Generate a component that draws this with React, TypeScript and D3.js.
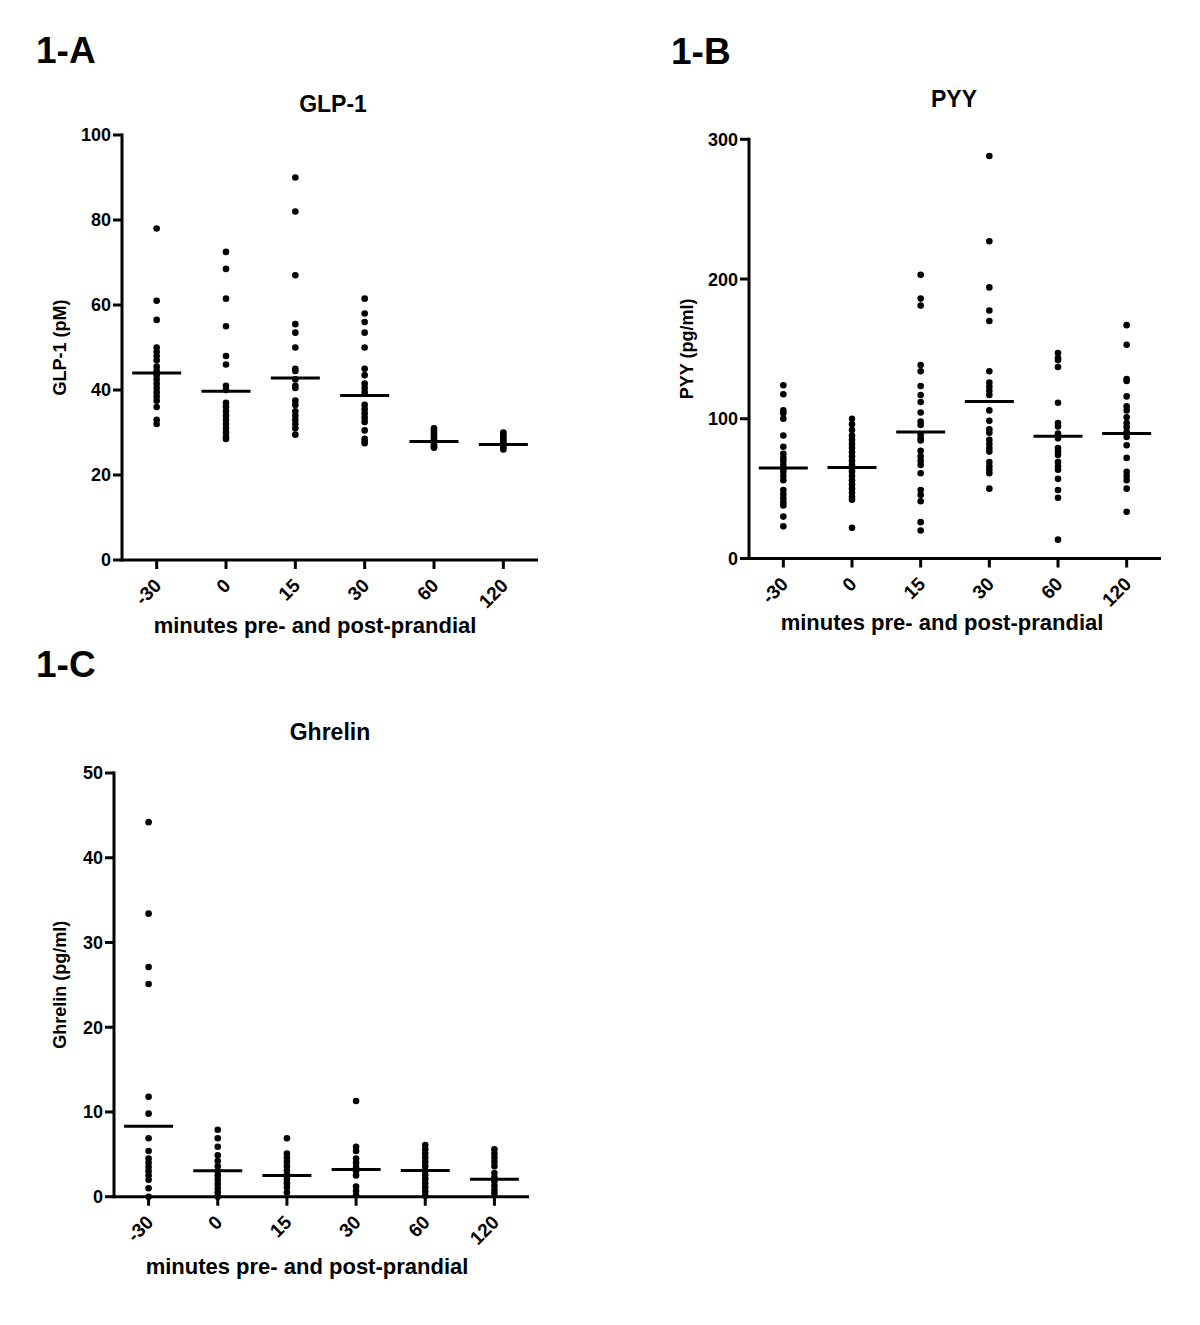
import React from "react";
import * as d3 from "d3";

const categories = ["-30", "0", "15", "30", "60", "120"];

// GLP-1 (pM)
const glpM30 = [78, 61, 56.5, 50, 49, 48, 47, 45.5, 44.5, 43.5, 42.5, 41.5, 40.5, 39.5, 38.5, 37.5, 36, 33, 32];
const glp0 = [72.5, 68.5, 61.5, 55, 48, 46, 41, 40, 37, 36, 35, 34, 33, 32, 31, 30, 29, 28.5];
const glp15 = [90, 82, 67, 55.5, 53.5, 50, 45, 44.5, 42.5, 41, 40.5, 37.5, 36.5, 35, 34, 33, 32, 31, 29.5];
const glp30 = [61.5, 58, 56, 53.5, 50, 45, 43.5, 41.5, 40.5, 39.5, 36.5, 35.5, 34.5, 33.5, 32.5, 30.5, 28.5, 28, 27.5];
const glp60 = [31, 30.5, 30, 29.5, 29, 28.5, 28, 27.5, 27, 26.5, 26.5];
const glp120 = [30, 29.5, 29, 28.5, 28, 27.5, 27, 26.5, 26];
const glpMeans = [44, 39.7, 42.8, 38.7, 27.9, 27.2];
const glpTicks = [0, 20, 40, 60, 80, 100];

// PYY (pg/ml)
const pyyM30 = [124, 117.5, 106, 104, 100, 88, 80, 75, 72, 70, 67, 64, 62, 59, 56, 49, 46, 43, 40, 38, 30, 23];
const pyy0 = [100, 96, 92, 88, 85, 82, 79, 76, 73, 70, 67, 64, 62, 59, 56, 53, 50, 47, 44, 42, 22];
const pyy15 = [203, 186, 181, 138.5, 134, 123.5, 117, 112, 104.5, 98, 95.5, 88.5, 86, 84.5, 77, 73, 70, 67, 61, 49, 45.5, 41, 26, 20];
const pyy30 = [288, 227, 194, 177.5, 170, 134, 126, 123, 120, 117, 106, 98.5, 92.5, 90, 85, 82, 79, 76.5, 69, 66, 63.5, 61, 50];
const pyy60 = [147, 143.5, 142, 137, 111.5, 97, 94.5, 89.5, 86, 79, 76.5, 74, 69, 66, 63.5, 57, 49, 43.5, 13.5];
const pyy120 = [167, 153, 128.5, 127, 116, 109, 106, 101, 97, 94, 90.5, 87, 81, 72, 62, 59, 56, 50, 33.5];
const pyyMeans = [64.8, 65.2, 90.5, 112.3, 87.5, 89.5];
const pyyTicks = [0, 100, 200, 300];

// Ghrelin (pg/ml)
const ghrM30 = [44.2, 33.4, 27.1, 25.1, 11.8, 9.8, 6.9, 5.4, 4.5, 4, 3.5, 3, 2.5, 2, 1, 0];
const ghr0 = [7.9, 6.9, 5.9, 4.9, 4.2, 3.6, 3, 2.5, 2, 1.5, 1, 0.5, 0];
const ghr15 = [6.9, 5.1, 4.6, 4.1, 3.6, 3.1, 2.6, 2.1, 1.6, 1.1, 0.5];
const ghr30 = [11.3, 5.9, 5.4, 4.5, 4, 3.5, 3, 2.5, 1.2, 0.7, 0.2];
const ghr60 = [6.1, 5.6, 5.1, 4.6, 4.1, 3.6, 3.1, 2.6, 2.1, 1.6, 1.1, 0.6, 0.1];
const ghr120 = [5.6, 5.1, 4.6, 4.1, 3.6, 2.8, 2.3, 1.8, 1.3, 0.8, 0.4];
const ghrMeans = [8.3, 3.05, 2.5, 3.2, 3.1, 2.05];
const ghrTicks = [0, 10, 20, 30, 40, 50];

const FONT = "'Liberation Sans', Arial, Helvetica, sans-serif";

type PanelProps = {
  label: string;
  labelX: number;
  labelY: number;
  title: string;
  titleX: number;
  titleY: number;
  yLabel: string;
  yLabelX: number;
  x0: number;
  x1: number;
  yTop: number;
  yBottom: number;
  yMax: number;
  ticks: number[];
  series: number[][];
  means: number[];
  xTitleX: number;
  xTitleY: number;
};

function Panel(p: PanelProps) {
  const x = d3.scalePoint<string>().domain(categories).range([p.x0, p.x1]).padding(0.5);
  const y = d3.scaleLinear().domain([0, p.yMax]).range([p.yBottom, p.yTop]);
  const stroke = 3;
  return (
    <g fontFamily={FONT} fontWeight="bold" fill="#000">
      <text x={p.labelX} y={p.labelY} fontSize={37}>{p.label}</text>
      <text x={p.titleX} y={p.titleY} fontSize={23} textAnchor="middle">{p.title}</text>
      {/* y axis */}
      <line x1={p.x0} x2={p.x0} y1={y(p.yMax) - 1.5} y2={y(0) + 1.5} stroke="#000" strokeWidth={stroke} />
      {p.ticks.map((t) => (
        <g key={t}>
          <line x1={p.x0 - 9} x2={p.x0} y1={y(t)} y2={y(t)} stroke="#000" strokeWidth={stroke} />
          <text x={p.x0 - 11} y={y(t)} dy="0.36em" textAnchor="end" fontSize={18}>{t}</text>
        </g>
      ))}
      {/* x axis */}
      <line x1={p.x0} x2={p.x1} y1={y(0)} y2={y(0)} stroke="#000" strokeWidth={stroke} />
      {categories.map((c) => (
        <g key={c}>
          <line x1={x(c)!} x2={x(c)!} y1={y(0)} y2={y(0) + 9} stroke="#000" strokeWidth={stroke} />
          <text
            transform={`translate(${x(c)! + 1},${y(0) + 22}) rotate(-45)`}
            dy="0.36em"
            textAnchor="end"
            fontSize={19}
          >
            {c}
          </text>
        </g>
      ))}
      <text x={p.xTitleX} y={p.xTitleY} textAnchor="middle" fontSize={22}>minutes pre- and post-prandial</text>
      <text
        transform={`translate(${p.yLabelX},${(p.yTop + p.yBottom) / 2}) rotate(-90)`}
        textAnchor="middle"
        fontSize={18}
      >
        {p.yLabel}
      </text>
      {/* points */}
      {p.series.map((vals, i) => (
        <g key={i}>
          {vals.map((v, j) => (
            <circle key={j} cx={x(categories[i])!} cy={y(v)} r={3.3} fill="#000" />
          ))}
          <line
            x1={x(categories[i])! - 24.5}
            x2={x(categories[i])! + 24.5}
            y1={y(p.means[i])}
            y2={y(p.means[i])}
            stroke="#000"
            strokeWidth={3}
          />
        </g>
      ))}
    </g>
  );
}

export default function App() {
  return (
    <svg
      width={1200}
      height={1325}
      viewBox="0 0 1200 1325"
      style={{ position: "absolute", left: 0, top: 0, background: "#fff" }}
    >
      <rect x={0} y={0} width={1200} height={1325} fill="#fff" />
      <Panel
        label="1-A"
        labelX={36}
        labelY={63}
        title="GLP-1"
        titleX={333}
        titleY={112}
        yLabel="GLP-1 (pM)"
        yLabelX={66}
        x0={122}
        x1={538}
        yTop={135}
        yBottom={560}
        yMax={100}
        ticks={glpTicks}
        series={[glpM30, glp0, glp15, glp30, glp60, glp120]}
        means={glpMeans}
        xTitleX={315}
        xTitleY={633}
      />
      <Panel
        label="1-B"
        labelX={671}
        labelY={64}
        title="PYY"
        titleX={954}
        titleY={107}
        yLabel="PYY (pg/ml)"
        yLabelX={693}
        x0={749}
        x1={1161}
        yTop={139.3}
        yBottom={558.5}
        yMax={300}
        ticks={pyyTicks}
        series={[pyyM30, pyy0, pyy15, pyy30, pyy60, pyy120]}
        means={pyyMeans}
        xTitleX={942}
        xTitleY={630}
      />
      <Panel
        label="1-C"
        labelX={36}
        labelY={677}
        title="Ghrelin"
        titleX={330}
        titleY={740}
        yLabel="Ghrelin (pg/ml)"
        yLabelX={66}
        x0={114}
        x1={529}
        yTop={773}
        yBottom={1196.7}
        yMax={50}
        ticks={ghrTicks}
        series={[ghrM30, ghr0, ghr15, ghr30, ghr60, ghr120]}
        means={ghrMeans}
        xTitleX={307}
        xTitleY={1274}
      />
    </svg>
  );
}
